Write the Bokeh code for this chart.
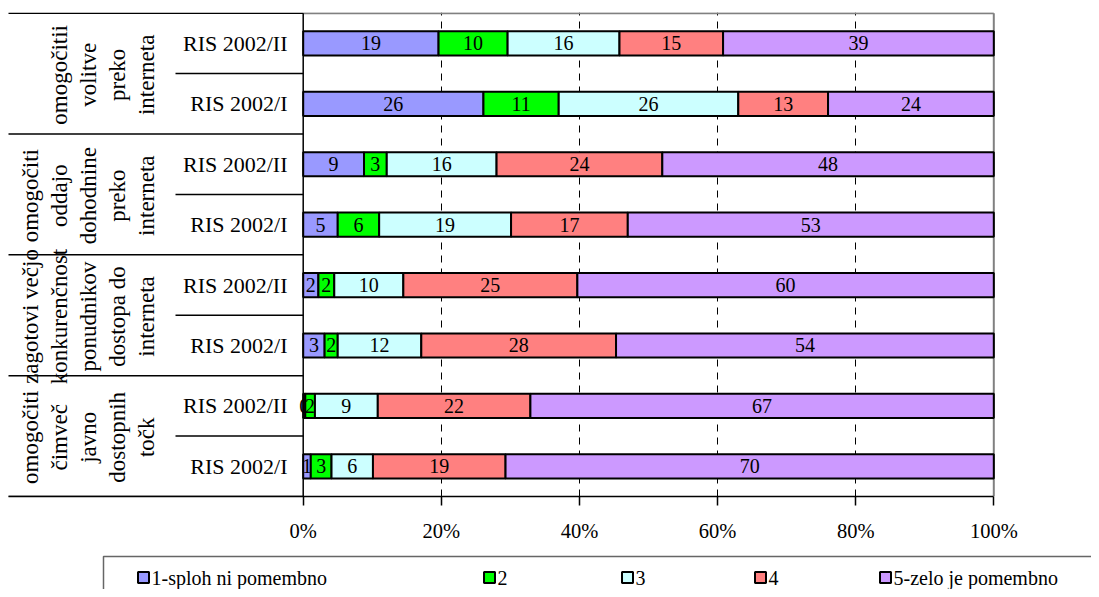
import numpy as np
from bokeh.plotting import figure
from bokeh.models import Range1d, FixedTicker
from bokeh.layouts import column
from bokeh.embed import file_html
from bokeh.resources import INLINE
from bokeh.core.properties import value

# ---------------- data ----------------
groups = [
    "omogočitii\nvolitve\npreko\ninterneta",
    "omogočiti\noddajo\ndohodnine\npreko\ninterneta",
    "zagotovi večjo\nkonkurenčnost\nponudnikov\ndostopa do\ninterneta",
    "omogočiti\nčimveč\njavno\ndostopnih\ntočk",
]
surveys = ["RIS 2002/II", "RIS 2002/I"]
series = ["1-sploh ni pomembno", "2", "3", "4", "5-zelo je pomembno"]
colors = ["#9999FF", "#00FF00", "#CCFFFF", "#FF8080", "#CC99FF"]

# bar shares (% of bar length), rows from top to bottom
share_1 = [19.6, 26.1, 8.8, 5.0, 2.2, 3.1, 0.3, 1.1]
share_2 = [10.0, 10.9, 3.3, 6.0, 2.3, 1.9, 1.4, 3.0]
share_3 = [16.2, 26.0, 15.9, 19.1, 10.0, 12.1, 9.1, 6.0]
share_4 = [15.0, 13.0, 24.0, 16.9, 25.2, 28.2, 22.1, 19.2]
share_5 = [39.2, 24.0, 48.0, 53.0, 60.3, 54.7, 67.1, 70.7]
# printed data labels
label_1 = [19, 26, 9, 5, 2, 3, 0, 1]
label_2 = [10, 11, 3, 6, 2, 2, 2, 3]
label_3 = [16, 26, 16, 19, 10, 12, 9, 6]
label_4 = [15, 13, 24, 17, 25, 28, 22, 19]
label_5 = [39, 24, 48, 53, 60, 54, 67, 70]

tick_values = [0, 20, 40, 60, 80, 100]
tick_labels = ["0%", "20%", "40%", "60%", "80%", "100%"]

# ---------------- layout constants ----------------
FONT = value("Liberation Serif")
W, H1, H2 = 1091, 548, 41
PLOT_L, PLOT_R = 302.7, 993.3          # screen x of 0% and 100%
PX = (PLOT_R - PLOT_L) / 100.0
X0 = -PLOT_L / PX
X1 = 100 + (W - PLOT_R) / PX
FRAME_TOP, FRAME_BOT, PLOT_TOP = 12, 496, 12.7
BAND = (FRAME_BOT - PLOT_TOP) / 8.0
Y1 = 8 + (PLOT_TOP - FRAME_TOP) / BAND


def sx(px):
    return (px - PLOT_L) / PX


n_rows = len(share_1)
ys = np.array([n_rows - 0.5 - i for i in range(n_rows)])

p = figure(width=W, height=H1, x_range=Range1d(X0, X1), y_range=Range1d(0, Y1),
           y_axis_location=None, toolbar_location=None, output_backend="svg",
           min_border_left=0, min_border_right=0, min_border_top=FRAME_TOP,
           min_border_bottom=H1 - FRAME_BOT)
p.outline_line_color = None
p.background_fill_color = "white"
p.border_fill_color = "white"

# grid
p.ygrid.visible = False
p.xgrid.ticker = FixedTicker(ticks=tick_values[1:-1])
p.xgrid.grid_line_color = "black"
p.xgrid.grid_line_dash = "7 6"
p.xgrid.grid_line_width = 1

# x axis
ax = p.xaxis[0]
ax.ticker = FixedTicker(ticks=tick_values)
ax.major_label_overrides = {v: t for v, t in zip(tick_values, tick_labels)}
ax.bounds = (sx(8), 100)
ax.axis_line_color = "black"
ax.axis_line_width = 1.5
ax.major_tick_line_color = "black"
ax.major_tick_line_width = 1.5
ax.major_tick_in = 0
ax.major_tick_out = 9
ax.minor_tick_line_color = None
ax.major_label_standoff = 14
ax.major_label_text_font = "Liberation Serif"
ax.major_label_text_font_size = "20.5px"
ax.major_label_text_color = "black"

# plot border (top / right grey, left black)
p.segment(x0=[0, 100], y0=[n_rows, 0], x1=[100, 100], y1=[n_rows, n_rows],
          line_color="#808080", line_width=2)
p.segment(x0=[0], y0=[0], x1=[0], y1=[n_rows], line_color="black", line_width=1.5)

# category separators
grp_edges = [n_rows - 2 * i for i in range(len(groups) + 1)]
p.segment(x0=[sx(8)] * len(grp_edges), y0=grp_edges, x1=[0] * len(grp_edges), y1=grp_edges,
          line_color="black", line_width=1.5)
sub_edges = [n_rows - 1 - 2 * i for i in range(len(groups))]
p.segment(x0=[sx(175)] * len(sub_edges), y0=sub_edges, x1=[0] * len(sub_edges), y1=sub_edges,
          line_color="black", line_width=1.5)

# stacked bars
shares = [share_1, share_2, share_3, share_4, share_5]
labels = [label_1, label_2, label_3, label_4, label_5]
left = np.zeros(n_rows)
for s, lab, c in zip(shares, labels, colors):
    s = np.array(s, dtype=float)
    right = left + s
    p.hbar(y=ys, left=left, right=right, height=0.4, fill_color=c,
           line_color="black", line_width=2)
    p.text(x=(left + right) / 2, y=ys, text=[str(v) for v in lab],
           text_font=FONT, text_font_size="20px", text_align="center",
           text_baseline="middle", text_color="black")
    left = right

# survey labels
p.text(x=[sx(287)] * n_rows, y=ys, text=[surveys[i % 2] for i in range(n_rows)],
       text_font=FONT, text_font_size="22px", text_align="right",
       text_baseline="middle", text_color="black")

# group labels (rotated)
g_centers = [n_rows - 1 - 2 * i - 0.02 for i in range(len(groups))]
p.text(x=[sx(158)] * len(groups), y=g_centers, text=groups, angle=np.pi / 2,
       text_font=FONT, text_font_size="23px", text_align="center",
       text_baseline="bottom", text_line_height=1.16, text_color="black")

# ---------------- legend strip ----------------
q = figure(width=W, height=H2, x_range=Range1d(0, W), y_range=Range1d(0, H2),
           x_axis_location=None, y_axis_location=None, toolbar_location=None,
           output_backend="svg", min_border=0)
q.outline_line_color = None
q.grid.visible = False
q.quad(left=[103], right=[W + 20], top=[H2 - 8], bottom=[-20],
       fill_color=None, line_color="#666666", line_width=1.5)
sq_left = [137, 483, 621, 754, 879]
yc = H2 - 29
q.rect(x=[v + 6 for v in sq_left], y=[yc] * 5, width=11, height=11,
       fill_color=colors, line_color="black", line_width=2)
q.text(x=[v + 14 for v in sq_left], y=[yc] * 5, text=series,
       text_font=FONT, text_font_size="20px", text_align="left",
       text_baseline="middle", text_color="black")

layout = column(p, q, spacing=0)
open("out.html", "w").write(file_html(layout, INLINE))
